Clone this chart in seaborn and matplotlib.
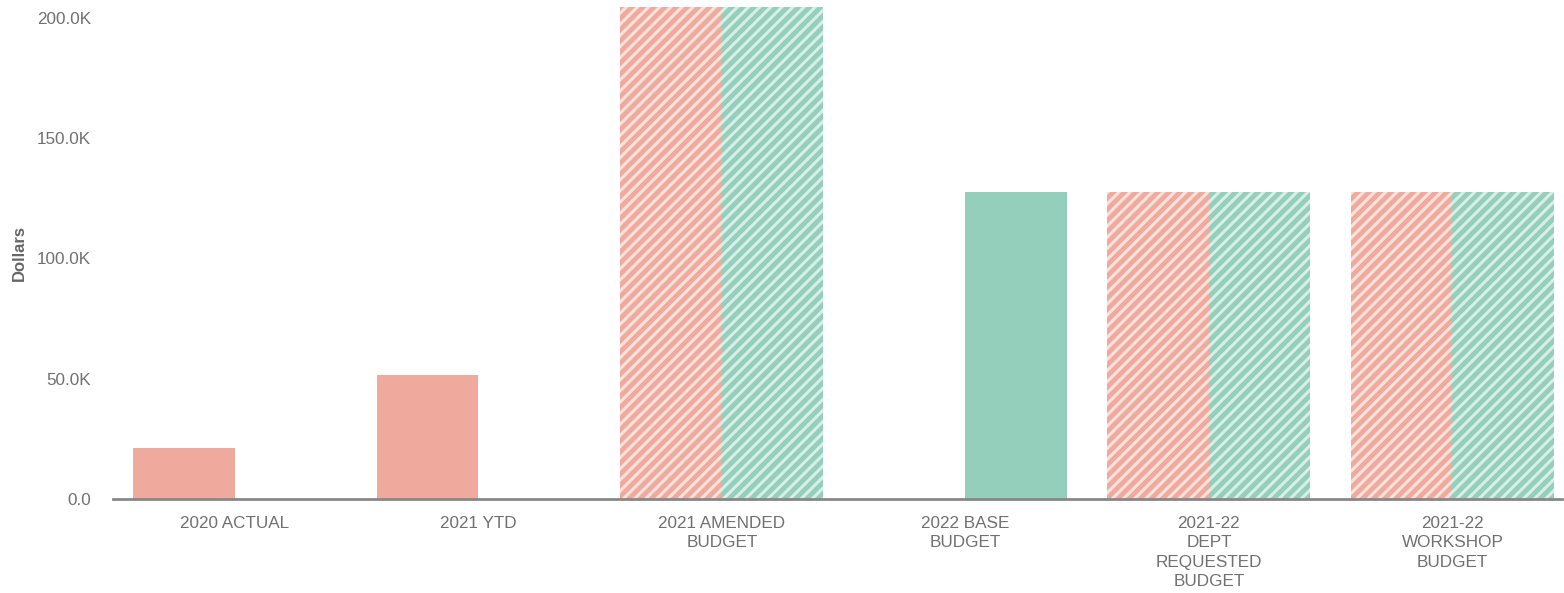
import matplotlib
matplotlib.use("Agg")
import matplotlib.pyplot as plt
import seaborn as sns
import pandas as pd
from matplotlib.ticker import FuncFormatter

categories = ["2020 ACTUAL", "2021 YTD", "2021 AMENDED\nBUDGET", "2022 BASE\nBUDGET",
              "2021-22\nDEPT\nREQUESTED\nBUDGET", "2021-22\nWORKSHOP\nBUDGET"]
expenses = [21300, 51500, 204500, 0, 127600, 127600]
revenues = [0, 0, 204500, 127600, 127600, 127600]
hatched = [False, False, True, False, True, True]
series_names = ["Expenses", "Revenues"]

df = pd.DataFrame({
    "category": categories * 2,
    "value": expenses + revenues,
    "series": [series_names[0]] * len(categories) + [series_names[1]] * len(categories),
})

sns.set_style("white")
plt.rcParams["font.family"] = ["Liberation Sans", "DejaVu Sans"]
plt.rcParams["hatch.linewidth"] = 2.2

fig = plt.figure(figsize=(15.64, 5.93), dpi=100)
ax = fig.add_axes([113 / 1564, 1 - 499 / 593, (1562 - 113) / 1564, (499 - 7) / 593])

palette = {"Expenses": "#F0AA9D", "Revenues": "#93CFBA"}
sns.barplot(data=df, x="category", y="value", hue="series", order=categories,
            hue_order=series_names, palette=palette, width=0.834, dodge=True,
            saturation=1, linewidth=0, ax=ax, legend=False, errorbar=None)

for cont in ax.containers:
    for i, bar in enumerate(cont):
        if hatched[i]:
            bar.set_hatch("///")
            bar.set_edgecolor((1, 1, 1, 0.65))
            bar.set_linewidth(0)

ax.set_xlim(-0.5, 5.45)
ax.set_ylim(0, 204500)
ax.set_yticks([0, 50000, 100000, 150000, 200000])
ax.yaxis.set_major_formatter(FuncFormatter(lambda v, p: "0.0" if v == 0 else f"{v/1000:.1f}K"))

ax.set_xlabel("")
ax.set_ylabel("Dollars", fontsize=12, fontweight="bold", color="#666666")
ax.yaxis.set_label_coords((27 - 113) / 1449, 0.5)
ax.tick_params(axis="y", length=0, pad=16, labelsize=12.3, labelcolor="#707070")
ax.tick_params(axis="x", length=0, pad=12, labelsize=12.3, labelcolor="#707070")
for lbl in ax.get_xticklabels():
    lbl.set_linespacing(1.38)

for s in ["top", "right", "left"]:
    ax.spines[s].set_visible(False)
ax.spines["bottom"].set_color("#888888")
ax.spines["bottom"].set_linewidth(2)
ax.grid(False)

fig.savefig("out.png", dpi=100)
